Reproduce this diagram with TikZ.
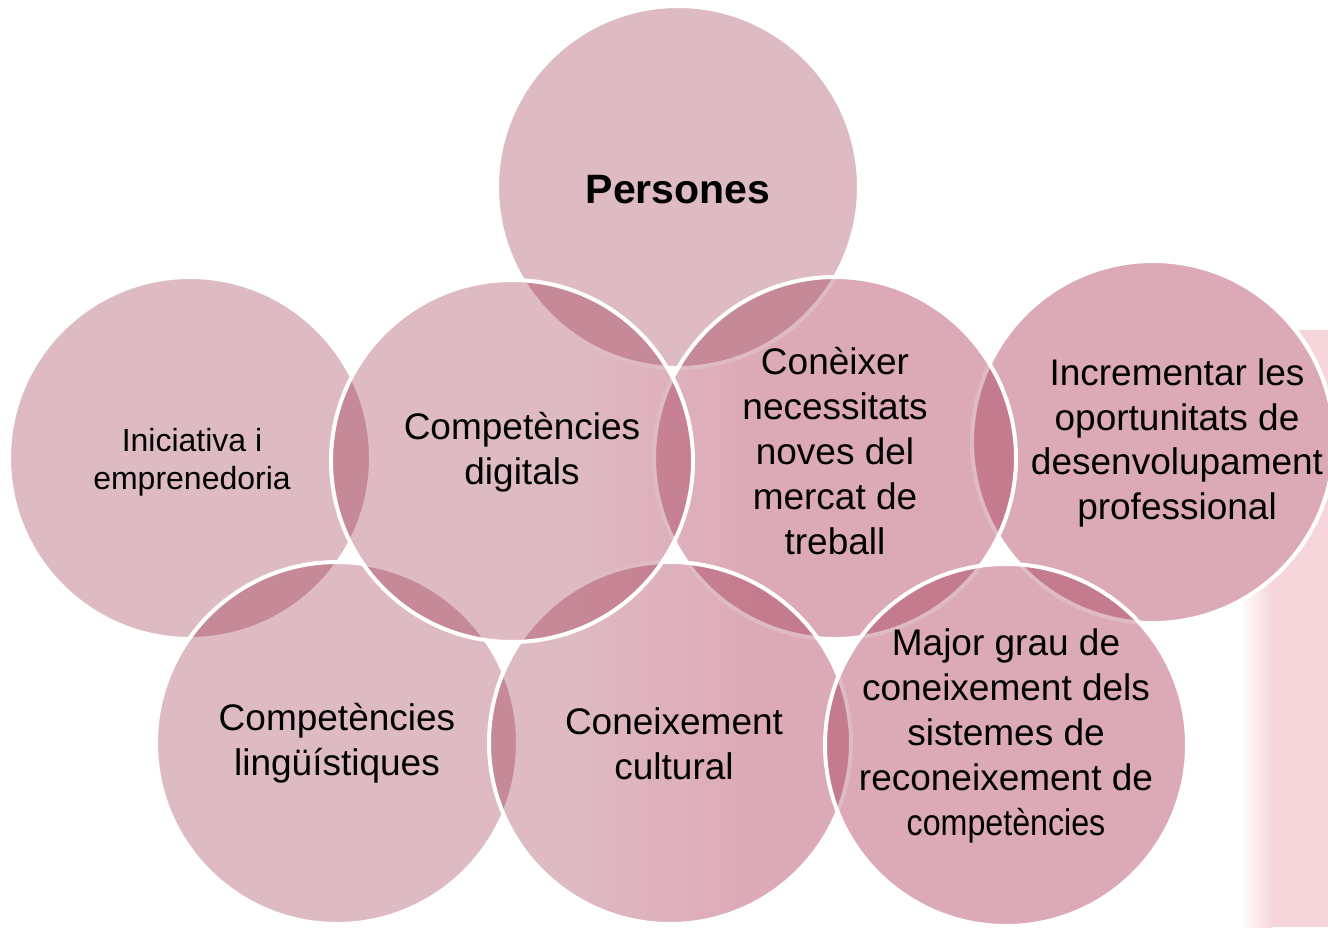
\documentclass[tikz,border=0pt]{standalone}
\usepackage{fontspec}
\setmainfont{Liberation Sans}
\definecolor{cfill}{RGB}{134,0,32}
\definecolor{pinkbg}{RGB}{246,214,219}
\definecolor{tint}{RGB}{252,231,237}
\begin{document}
\begin{tikzpicture}[x=1pt,y=-1pt,
  circ/.style={circle, minimum size=362pt, inner sep=0pt, fill=cfill, fill opacity=0.265, draw=white, draw opacity=1, line width=4pt},
  lbl/.style={align=center, text=black, inner sep=0pt, font=\fontsize{37}{44.8}\selectfont},
  lblsmall/.style={align=center, text=black, inner sep=0pt, font=\fontsize{32}{38}\selectfont},
  lblbig/.style={align=center, text=black, inner sep=0pt, font=\fontsize{41}{49}\selectfont\bfseries}]
\useasboundingbox (0,0) rectangle (1328,927);
\fill[white] (0,0) rectangle (1328,927);
% faint background band on the right
\shade[left color=white, right color=pinkbg, shading angle=90] (1240,330) rectangle (1272,927);
\fill[pinkbg] (1272,330) rectangle (1328,927);
\fill[white] (1153,442) circle (183);
% faint tint of the background behind the right-hand circles
\begin{scope}
  \clip (835,458) circle (181) (1153,442) circle (181) (670,743) circle (181)
        (1006,745) circle (181) (512,461) circle (181);
  \shade[left color=white, right color=tint] (560,260) rectangle (760,927);
  \fill[tint] (760,260) rectangle (1328,927);
\end{scope}
\fill[white] (678,187) circle (183);
% circles (drawing order sets which borders stay solid)
\node[circ] (cP)   at (678,187) {};
\node[circ] (cI)   at (190,458) {};
\node[circ] (cInc) at (1153,442) {};
\node[circ] (cC)   at (835,458) {};
\node[circ] (cL)   at (337,743) {};
\node[circ] (cCu)  at (670,743) {};
\node[circ] (cM)   at (1006,745) {};
\node[circ] (cD)   at (512,461) {};
% labels
\node[lblbig]   (tP)   at (678,190) {Persones};
\node[lblsmall] (tI)   at (192,462) {Iniciativa i\\emprenedoria};
\node[lbl]      (tD)   at (522,452) {Competències\\digitals};
\node[lbl]      (tC)   at (835,451) {Conèixer\\necessitats\\noves del\\mercat de\\treball};
\node[lbl]      (tInc) at (1177,443) {Incrementar les\\oportunitats de\\desenvolupament\\professional};
\node[lbl]      (tL)   at (337,743) {Competències\\lingüístiques};
\node[lbl]      (tCu)  at (674,744) {Coneixement\\cultural};
\node[lbl]      (tM)   at (1006,736) {Major grau de\\coneixement dels\\sistemes de\\reconeixement de\\\scalebox{0.87}[1]{competències}};
\end{tikzpicture}
\end{document}
